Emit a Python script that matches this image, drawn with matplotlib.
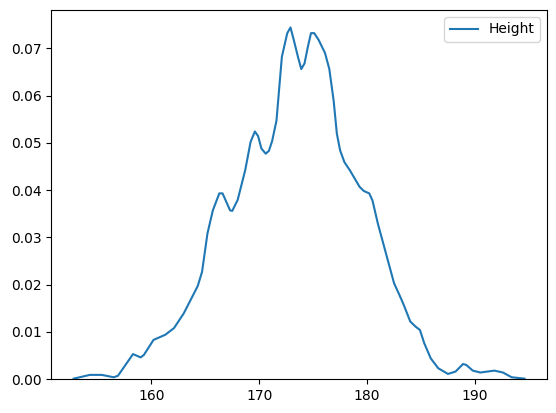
import matplotlib
matplotlib.use('Agg')
import matplotlib.pyplot as plt

# KDE curve of height
height = [152.8, 154.3, 155.4, 156.5, 156.9, 158.3, 159.0, 159.3, 160.2, 161.3,
          162.1, 163.0, 164.3, 164.7, 165.2, 165.7, 166.3, 166.6, 167.3, 167.5,
          168.0, 168.7, 169.2, 169.6, 169.9, 170.2, 170.6, 170.9, 171.2, 171.6,
          172.1, 172.6, 172.9, 173.2, 173.6, 173.9, 174.2, 174.5, 174.8, 175.1,
          175.5, 176.1, 176.5, 176.9, 177.2, 177.5, 177.9, 178.4, 179.3, 179.7,
          180.2, 180.5, 181.0, 181.5, 182.0, 182.5, 183.0, 183.4, 184.0, 184.5,
          184.9, 185.3, 185.9, 186.6, 187.5, 188.2, 188.9, 189.2, 189.8, 190.5,
          191.8, 192.6, 193.4, 194.6]
density = [0.0001, 0.0009, 0.0009, 0.0004, 0.0007, 0.0053, 0.0046, 0.0051, 0.0083, 0.0094,
           0.0108, 0.0139, 0.0197, 0.0227, 0.0308, 0.0357, 0.0393, 0.0393, 0.0357, 0.0356,
           0.0379, 0.0442, 0.0502, 0.0524, 0.0514, 0.0488, 0.0477, 0.0483, 0.0504, 0.0547,
           0.0682, 0.0732, 0.0744, 0.0718, 0.0681, 0.0656, 0.0668, 0.0702, 0.0732, 0.0732,
           0.0718, 0.0690, 0.0656, 0.0589, 0.0519, 0.0484, 0.0459, 0.0442, 0.0407, 0.0398,
           0.0393, 0.0378, 0.0329, 0.0287, 0.0245, 0.0203, 0.0178, 0.0157, 0.0122, 0.0111,
           0.0104, 0.0076, 0.0044, 0.0023, 0.0011, 0.0016, 0.0032, 0.0030, 0.0018, 0.0014,
           0.0018, 0.0014, 0.0004, 0.0001]

fig, ax = plt.subplots(figsize=(5.56, 4.13), dpi=100)
fig.subplots_adjust(left=0.092, right=0.984, bottom=0.082, top=0.976)

ax.plot(height, density, color='tab:blue', label='Height')
ax.set_ylim(bottom=0)
ax.legend(loc='upper right')

fig.savefig('out.png', dpi=100)
